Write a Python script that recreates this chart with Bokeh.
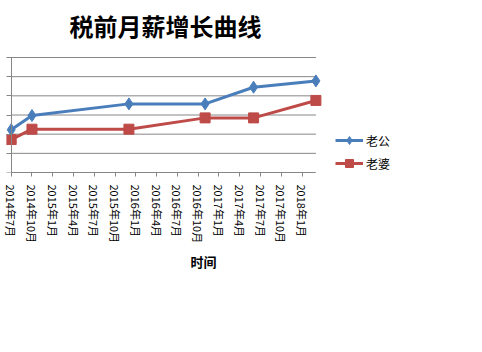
from bokeh.plotting import figure
from bokeh.models import Range1d, FixedTicker, Legend, LegendItem, LinearAxis, Label
from bokeh.embed import file_html
from bokeh.resources import INLINE

# ---- data ----
dates = ["2014-07", "2014-10", "2015-12", "2016-11", "2017-06", "2018-03"]
husband = [4460, 5940, 7160, 7160, 8900, 9560]   # 老公
wife = [3440, 4520, 4520, 5700, 5700, 7520]      # 老婆
tick_labels = ["2014年7月", "2014年10月", "2015年1月", "2015年4月", "2015年7月",
               "2015年10月", "2016年1月", "2016年4月", "2016年7月", "2016年10月",
               "2017年1月", "2017年4月", "2017年7月", "2017年10月", "2018年1月"]
y_ticks = [0, 2000, 4000, 6000, 8000, 10000, 12000]
title_text = "税前月薪增长曲线"
series_names = ["老公", "老婆"]
x_title = "时间"
start = "2014-07"
end = "2018-03"

def months(s):
    y, m = s.split("-")
    y0, m0 = start.split("-")
    return (int(y) - int(y0)) * 12 + int(m) - int(m0)

xs = [months(d) for d in dates]
tick_pos = [3 * i for i in range(len(tick_labels))]
x_end = months(end)

# ---- layout (pixels) ----
W, H = 482, 352
FL, FR, FT, FB = 6, 400, 0, 172            # drawing frame
AX_L, AX_R, AX_T, AX_B = 10.7, 315.4, 57, 172
xpx = (AX_R - AX_L) / x_end
ypx = (AX_B - AX_T) / (y_ticks[-1] - y_ticks[0])
x_range = Range1d(-(AX_L - FL) / xpx, x_end + (FR - AX_R) / xpx)
y_range = Range1d(y_ticks[0], y_ticks[-1] + (AX_T - FT) / ypx)

CJK = "Noto Sans CJK SC"
GRID = "#868686"
BLUE = "#4A7EBB"
RED = "#BE4B48"

p = figure(width=W, height=H, output_backend="svg", toolbar_location=None,
           x_range=x_range, y_range=y_range, y_axis_location=None,
           min_border_left=FL, min_border_right=W - FR, min_border_top=FT,
           min_border_bottom=H - FB)
p.outline_line_color = None
p.background_fill_color = "white"
p.border_fill_color = "white"
p.xgrid.grid_line_color = None
p.ygrid.grid_line_color = None

# x axis
xa = p.xaxis[0]
xa.bounds = (0, x_end)
xa.ticker = FixedTicker(ticks=tick_pos)
xa.major_label_overrides = {t: l for t, l in zip(tick_pos, tick_labels)}
xa.major_label_orientation = "vertical"
xa.major_label_text_font = CJK
xa.major_label_text_font_size = "11px"
xa.major_label_text_color = "black"
xa.major_label_standoff = 8
xa.major_tick_out = 4
xa.major_tick_in = 0
xa.minor_tick_line_color = None
xa.axis_line_color = GRID
xa.major_tick_line_color = GRID
xa.axis_label = x_title
xa.axis_label_text_font = CJK
xa.axis_label_text_font_size = "13px"
xa.axis_label_text_font_style = "bold"
xa.axis_label_text_color = "black"
xa.axis_label_standoff = 6

# y axis (no labels) at the first date
ya = LinearAxis(fixed_location=0, bounds=(y_ticks[0], y_ticks[-1]),
                ticker=FixedTicker(ticks=y_ticks))
ya.major_label_overrides = {t: "" for t in y_ticks}
ya.major_label_standoff = 0
ya.major_tick_out = 6
ya.major_tick_in = 0
ya.minor_tick_line_color = None
ya.axis_line_color = GRID
ya.major_tick_line_color = GRID
p.add_layout(ya, "left")

# horizontal gridlines spanning the date axis
p.segment(x0=[0] * len(y_ticks), x1=[x_end] * len(y_ticks), y0=y_ticks, y1=y_ticks,
          line_color=GRID, line_width=1, level="underlay")

l1 = p.line(xs, husband, line_color=BLUE, line_width=3)
s1 = p.scatter(xs, husband, marker="diamond", size=12, fill_color=BLUE, line_color=BLUE)
l2 = p.line(xs, wife, line_color=RED, line_width=3)
s2 = p.scatter(xs, wife, marker="square", size=10, fill_color=RED, line_color=RED)

# title
p.add_layout(Label(x=165 - FL, y=FB - 25, x_units="screen", y_units="screen",
                   text=title_text, text_font=CJK, text_font_size="24px",
                   text_font_style="bold", text_color="black",
                   text_align="center", text_baseline="middle"))

legend = Legend(items=[LegendItem(label=series_names[0], renderers=[l1, s1]),
                       LegendItem(label=series_names[1], renderers=[l2, s2])],
                location=(335 - FL, FB - 173))
legend.label_text_font = CJK
legend.label_text_font_size = "12px"
legend.label_text_color = "black"
legend.glyph_width = 28
legend.glyph_height = 20
legend.label_height = 20
legend.spacing = 3
legend.padding = 0
legend.margin = 0
legend.label_standoff = 3
legend.border_line_color = None
legend.background_fill_alpha = 0
p.add_layout(legend, "center")

open("out.html", "w").write(file_html(p, INLINE))
